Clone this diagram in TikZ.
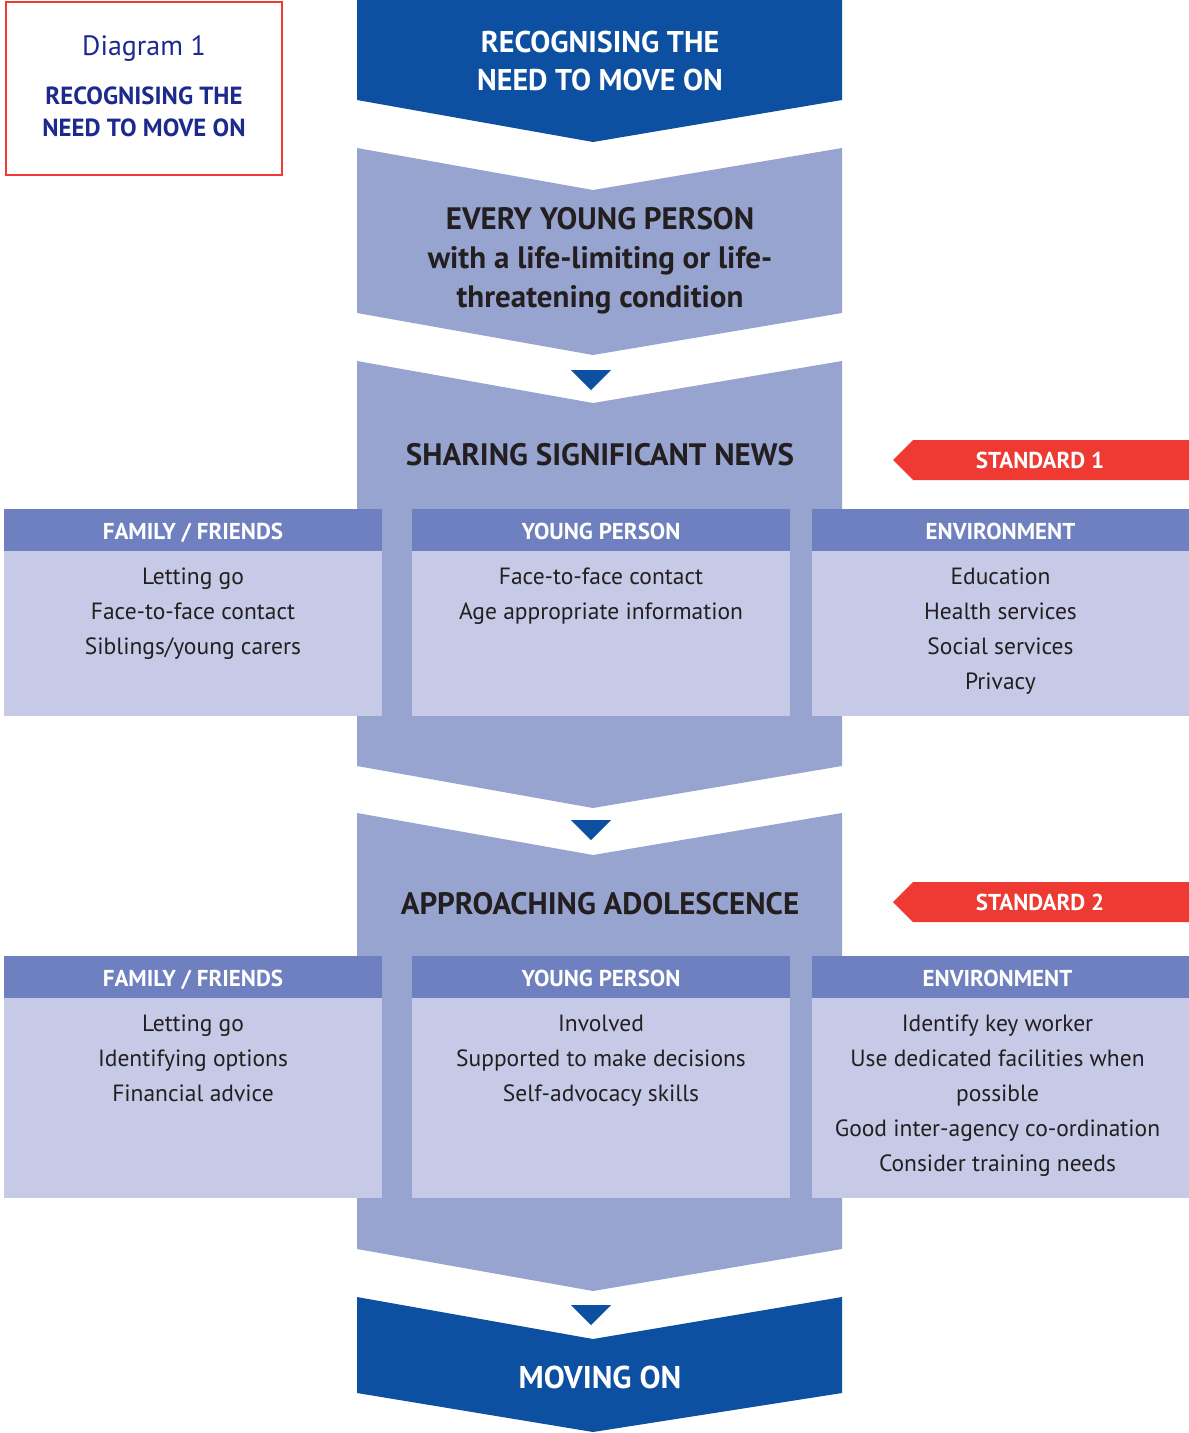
\documentclass[tikz,border=0pt]{standalone}
\usepackage{fontspec}
\setmainfont{PT Sans}
\usetikzlibrary{positioning}
\definecolor{navy}{HTML}{0D4FA1}
\definecolor{lilac}{HTML}{98A4D0}
\definecolor{colhead}{HTML}{6E80BF}
\definecolor{colbody}{HTML}{C6CAE6}
\definecolor{stdred}{HTML}{EE3A33}
\definecolor{boxtext}{HTML}{1B2A8C}
\definecolor{ink}{HTML}{231F20}

\begin{document}
\begin{tikzpicture}[x=1pt,y=-1pt,inner sep=0pt,
  title/.style={font=\bfseries\fontsize{31}{39}\selectfont,text=ink,align=center},
  colhd/.style={font=\bfseries\fontsize{23}{24}\selectfont,text=white,anchor=base},
  coltxt/.style={font=\fontsize{23.5}{35}\selectfont,text=ink,align=center,anchor=north},
  stdtag/.style={font=\bfseries\fontsize{23}{24}\selectfont,text=white}]
\useasboundingbox (0,0) rectangle (1189,1433);
% chevrons
\fill[navy] (357,0) -- (842,0) -- (842,100) -- (593,142) -- (357,100) -- cycle;
\foreach \yt/\yb in {148/313,361/766,813/1249} {\fill[lilac] (357,\yt) -- (593,\yt+42) -- (842,\yt) -- (842,\yb) -- (593,\yb+42) -- (357,\yb) -- cycle;}
\fill[navy] (357,1297) -- (593,1339) -- (842,1297) -- (842,1393) -- (593,1432) -- (357,1393) -- cycle;
\foreach \y in {370,820,1305} {\fill[navy] (571,\y) -- (611,\y) -- (591,\y+20) -- cycle;}
\node[font=\bfseries\fontsize{30}{38}\selectfont,text=white,align=center] (recog) at (600,61) {RECOGNISING THE\\NEED TO MOVE ON};
\node[title] (every) at (600,261) {EVERY YOUNG PERSON\\with a life-limiting or life-\\threatening condition};
\node[title] (sharing) at (600,455) {SHARING SIGNIFICANT NEWS};
\node[title] (adol) at (600,904) {APPROACHING ADOLESCENCE};
\node[font=\bfseries\fontsize{31.5}{38}\selectfont,text=white] (moving) at (600,1377) {MOVING ON};
% diagram label
\draw[stdred,line width=2pt] (6,2) rectangle (282,175);
\node[font=\fontsize{28}{30}\selectfont,text=boxtext] (diag) at (144,48) {Diagram 1};
\node[font=\bfseries\fontsize{24.8}{32}\selectfont,text=boxtext,align=center] (diagttl) at (144,112) {RECOGNISING THE\\NEED TO MOVE ON};
% standards
\foreach \n/\y/\lab in {s1/460/STANDARD 1,s2/902/STANDARD 2} {
  \fill[stdred] (893,\y) -- (913,\y-20) -- (1189,\y-20) -- (1189,\y+20) -- (913,\y+20) -- cycle;
  \node[stdtag] (\n) at (1040,\y) {\lab};}
% columns
\foreach \n/\xl/\xr/\yt/\yb/\hd/\txt in {
  fa/4/382/509/716/{FAMILY / FRIENDS}/{Letting go\\Face-to-face contact\\Siblings/young carers},
  ya/412/790/509/716/{YOUNG PERSON}/{Face-to-face contact\\Age appropriate information},
  ea/812/1189/509/716/{ENVIRONMENT}/{Education\\Health services\\Social services\\Privacy},
  fb/4/382/956/1198/{FAMILY / FRIENDS}/{Letting go\\Identifying options\\Financial advice},
  yb/412/790/956/1198/{YOUNG PERSON}/{Involved\\Supported to make decisions\\Self-advocacy skills},
  eb/812/1183/956/1198/{ENVIRONMENT}/{Identify key worker\\Use dedicated facilities when\\possible\\Good inter-agency co-ordination\\Consider training needs}} {
  \fill[colbody] (\xl,\yt) rectangle (\xr,\yb);
  \fill[colhead] (\xl,\yt) rectangle (\xr,\yt+42);
  \node[colhd] (h\n) at ({(\xl+\xr)/2},\yt+30) {\hd};
  \node[coltxt] (t\n) at ({(\xl+\xr)/2},\yt+59) {\txt};}
\fill[colbody] (1183,998) rectangle (1189,1198);
\fill[colhead] (1183,956) rectangle (1189,998);
\end{tikzpicture}
\end{document}
